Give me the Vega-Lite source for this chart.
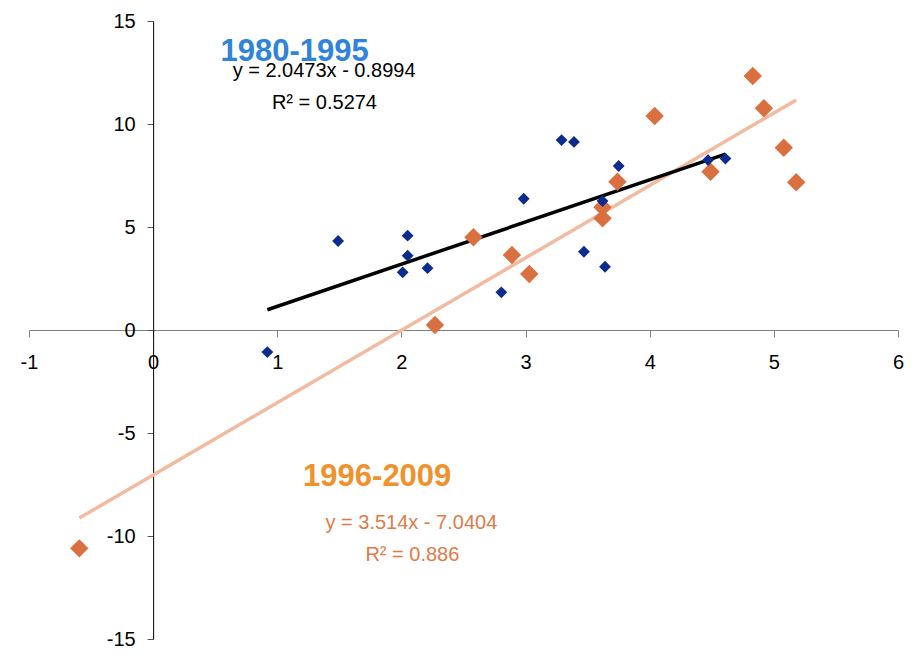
{
  "$schema": "https://vega.github.io/schema/vega-lite/v6.json",
  "width": 869,
  "height": 618,
  "autosize": "none",
  "padding": {"left": 29, "top": 21, "right": 24, "bottom": 17},
  "background": "white",
  "config": {"view": {"stroke": null}, "font": "Liberation Sans"},
  "datasets": {
    "points": [
      {"period": "1980-1995", "x": 0.92, "y": -1.07},
      {"period": "1980-1995", "x": 1.49, "y": 4.32},
      {"period": "1980-1995", "x": 2.05, "y": 4.58},
      {"period": "1980-1995", "x": 2.05, "y": 3.61},
      {"period": "1980-1995", "x": 2.01, "y": 2.80},
      {"period": "1980-1995", "x": 2.21, "y": 3.00},
      {"period": "1980-1995", "x": 2.805, "y": 1.83},
      {"period": "1980-1995", "x": 2.985, "y": 6.37},
      {"period": "1980-1995", "x": 3.29, "y": 9.22},
      {"period": "1980-1995", "x": 3.39, "y": 9.13},
      {"period": "1980-1995", "x": 3.47, "y": 3.80},
      {"period": "1980-1995", "x": 3.62, "y": 6.26},
      {"period": "1980-1995", "x": 3.64, "y": 3.07},
      {"period": "1980-1995", "x": 3.75, "y": 7.96},
      {"period": "1980-1995", "x": 4.47, "y": 8.25},
      {"period": "1980-1995", "x": 4.61, "y": 8.32},
      {"period": "1996-2009", "x": -0.595, "y": -10.60},
      {"period": "1996-2009", "x": 2.27, "y": 0.24},
      {"period": "1996-2009", "x": 2.58, "y": 4.50},
      {"period": "1996-2009", "x": 2.89, "y": 3.64},
      {"period": "1996-2009", "x": 3.03, "y": 2.72},
      {"period": "1996-2009", "x": 3.62, "y": 5.96},
      {"period": "1996-2009", "x": 3.62, "y": 5.42},
      {"period": "1996-2009", "x": 3.74, "y": 7.20},
      {"period": "1996-2009", "x": 4.04, "y": 10.39},
      {"period": "1996-2009", "x": 4.49, "y": 7.68},
      {"period": "1996-2009", "x": 4.83, "y": 12.33},
      {"period": "1996-2009", "x": 4.92, "y": 10.76},
      {"period": "1996-2009", "x": 5.08, "y": 8.85},
      {"period": "1996-2009", "x": 5.18, "y": 7.17}
    ],
    "fits": [
      {"period": "fit 1996-2009", "x": -0.595, "y": -9.131},
      {"period": "fit 1996-2009", "x": 5.18, "y": 11.162},
      {"period": "fit 1980-1995", "x": 0.92, "y": 0.984},
      {"period": "fit 1980-1995", "x": 4.61, "y": 8.539}
    ],
    "labels": [
      {"period": "title 1980-1995", "role": "title", "text": "1980-1995", "x": 1.14, "y": 13.5},
      {"period": "eq 1980-1995", "role": "eq", "text": "y = 2.0473x - 0.8994", "x": 1.377, "y": 12.57},
      {"period": "eq 1980-1995", "role": "eq", "text": "R² = 0.5274", "x": 1.38, "y": 11.02},
      {"period": "title 1996-2009", "role": "title", "text": "1996-2009", "x": 1.805, "y": -7.12},
      {"period": "eq 1996-2009", "role": "eq", "text": "y = 3.514x - 7.0404", "x": 2.08, "y": -9.38},
      {"period": "eq 1996-2009", "role": "eq", "text": "R² = 0.886", "x": 2.088, "y": -10.92}
    ]
  },
  "encoding": {
    "x": {
      "field": "x", "type": "quantitative",
      "scale": {"domain": [-1, 6], "nice": false, "zero": false},
      "axis": {
        "orient": "bottom", "offset": -309, "values": [-1, 0, 1, 2, 3, 4, 5, 6],
        "grid": false, "title": null, "domainColor": "#808080", "tickColor": "#808080",
        "tickSize": 7, "labelFontSize": 20, "labelPadding": 15, "labelFlush": false,
        "labelColor": "#000000", "labelFont": "Liberation Sans",
        "labelExpr": "replace(datum.label, '\u2212', '-')"
      }
    },
    "y": {
      "field": "y", "type": "quantitative",
      "scale": {"domain": [-15, 15], "nice": false, "zero": false},
      "axis": {
        "orient": "left", "offset": -124.14, "values": [-15, -10, -5, 0, 5, 10, 15],
        "grid": false, "title": null, "domainColor": "#000000", "tickColor": "#555555",
        "tickSize": 6, "labelFontSize": 20, "labelPadding": 12, "labelFlush": false,
        "labelColor": "#000000", "labelFont": "Liberation Sans",
        "labelExpr": "replace(datum.label, '\u2212', '-')"
      }
    },
    "color": {
      "field": "period", "type": "nominal", "legend": null,
      "scale": {
        "domain": ["1980-1995", "1996-2009", "fit 1980-1995", "fit 1996-2009", "title 1980-1995", "eq 1980-1995", "title 1996-2009", "eq 1996-2009"],
        "range": ["#0B2C8E", "#DA7040", "#000000", "#F2BBA0", "#2F84DA", "#000000", "#F0922C", "#E07B48"]
      }
    }
  },
  "layer": [
    {
      "data": {"name": "fits"},
      "mark": {"type": "line", "strokeWidth": 3.5},
      "encoding": {"detail": {"field": "period"}}
    },
    {
      "data": {"name": "points"},
      "mark": {"type": "point", "shape": "diamond", "filled": true, "opacity": 1},
      "encoding": {
        "size": {"field": "period", "type": "nominal", "legend": null,
          "scale": {"domain": ["1980-1995", "1996-2009"], "range": [140, 340]}},
        "order": {"field": "period", "sort": "descending"}
      }
    },
    {
      "data": {"name": "labels"},
      "transform": [{"filter": "datum.role === 'title'"}],
      "mark": {"type": "text", "fontSize": 31, "fontWeight": "bold", "baseline": "middle", "align": "center", "font": "Liberation Sans"},
      "encoding": {"text": {"field": "text"}}
    },
    {
      "data": {"name": "labels"},
      "transform": [{"filter": "datum.role === 'eq'"}],
      "mark": {"type": "text", "fontSize": 20, "baseline": "middle", "align": "center", "font": "Liberation Sans"},
      "encoding": {"text": {"field": "text"}}
    }
  ]
}
